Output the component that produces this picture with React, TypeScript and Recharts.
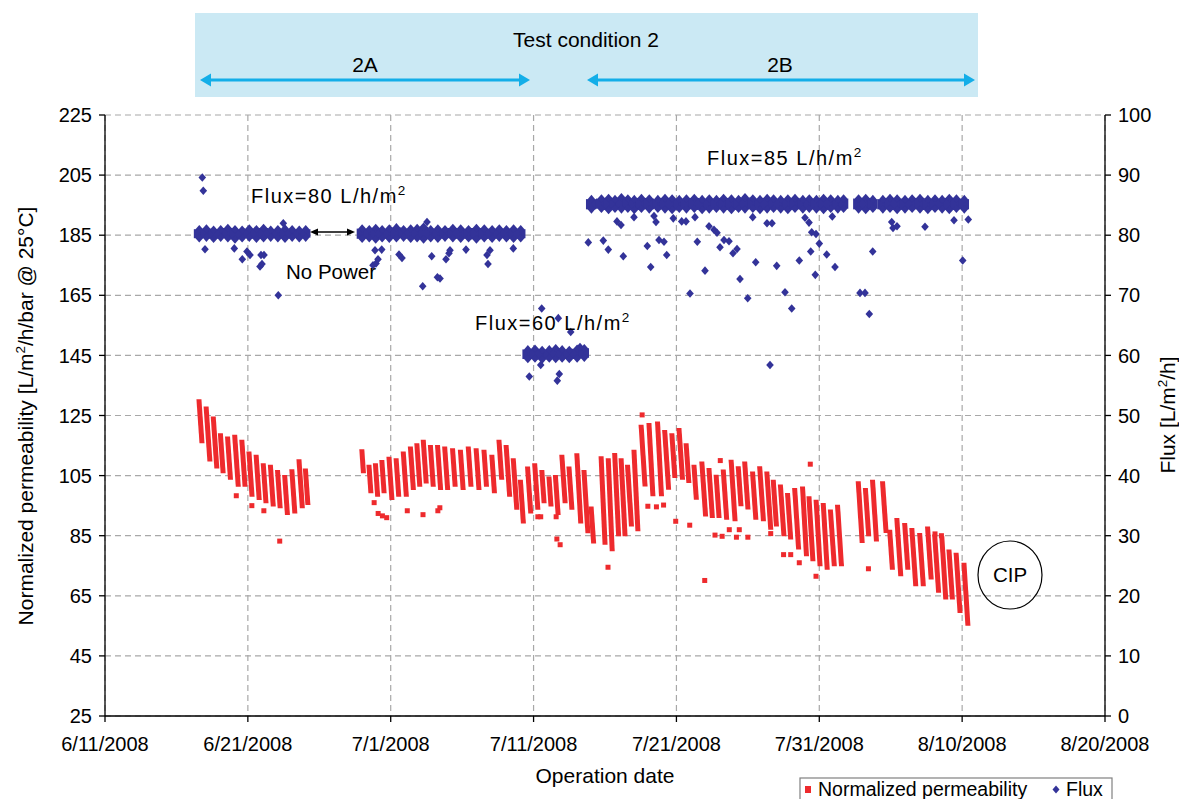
import React from 'react';
import { ComposedChart, XAxis, YAxis, CartesianGrid, Bar, Scatter } from 'recharts';

const FONT = '"Liberation Sans", Arial, Helvetica, sans-serif';
const RED = '#ee2a2d';
const BLUE = '#333399';
const CYAN = '#14aee8';

// x values are days after 6/11/2008
const dayTicks = [0, 10, 20, 30, 40, 50, 60, 70];
const permTicks = [25, 45, 65, 85, 105, 125, 145, 165, 185, 205, 225];
const fluxTicks = [0, 10, 20, 30, 40, 50, 60, 70, 80, 90, 100];

// Normalized permeability: one streak per filtration cycle (day, top, bottom)
const permDays = [
  6.6, 7.1, 7.6, 8.1, 8.6, 9.1, 9.6, 10.1, 10.6, 11.1, 11.6, 12.1, 12.6, 13.1, 13.6, 14.05,
  18.0, 18.5, 18.95, 19.4, 19.9, 20.4, 20.9, 21.4, 21.85, 22.3, 22.8, 23.3, 23.8, 24.35, 24.9, 25.45, 26.0,
  26.55, 27.1, 27.6, 28.1, 28.6, 29.1, 29.6, 30.1, 30.6, 31.1, 31.55, 32.0, 32.5, 33.05, 33.55, 34.05,
  34.75, 35.25, 35.7, 36.15, 36.6, 37.05, 37.55, 38.1, 38.7, 39.2, 39.7, 40.2, 40.7, 41.25, 41.8, 42.3, 42.8,
  43.3, 43.85, 44.35, 44.8, 45.35, 45.85, 46.35, 46.8, 47.3, 47.8, 48.3, 48.85, 49.3, 49.8, 50.3, 50.8, 51.3,
  52.75, 53.25, 53.75, 54.45, 54.95, 55.45, 56.0, 56.5, 57.05, 57.6, 58.1, 58.6, 59.1, 59.6, 60.15,
];
const permTop = [
  130.4, 128, 124.7, 119.1, 118, 118.6, 116.9, 113, 111.9, 109.1, 108.6, 106.9, 105.2, 107.1, 110.4, 107.4,
  113.8, 108.6, 109.1, 110.2, 111.3, 110.8, 113, 114.7, 115.8, 116.9, 115.2, 115.2, 114.7, 114.1, 113.6, 114.7, 114.1,
  113.6, 111.9, 116.9, 115.2, 110.8, 103.6, 108, 109.1, 106.9, 104.7, 105.2, 111.9, 108, 112.4, 106.9, 94.7,
  111.4, 110.8, 112.5, 110.8, 108.6, 113.6, 121.9, 122.5, 123, 120.2, 119.1, 120.8, 115.8, 108.6, 109.7, 107.5, 105.3,
  107, 110.3, 108.1, 109.7, 106.4, 108.1, 106.4, 103.6, 102, 99.2, 100.9, 101.4, 98.1, 97, 95.9, 93.7, 95.3,
  103.1, 100.9, 103.6, 103.1, 87, 90.9, 89.2, 87.6, 85.9, 88.1, 85.4, 84.8, 80.4, 79.3, 76,
];
const permBottom = [
  115.8, 109.7, 107.4, 105.8, 103.6, 101.3, 101.3, 98, 96.9, 95.8, 94.7, 94.1, 91.9, 92.4, 94.1, 95.2,
  105.8, 99.1, 98, 99.1, 96.9, 98, 98, 100.2, 101.3, 102.4, 101.3, 100.2, 100.2, 101.3, 100.2, 101.3, 100.2,
  101.3, 99.1, 103.6, 98, 93.6, 89.1, 92.4, 93.6, 95.8, 94.7, 91.9, 95.8, 93.6, 89.1, 85.8, 82.4,
  82, 79.8, 84.8, 84.8, 88.1, 86.5, 101.4, 98.1, 98.1, 100.3, 104.2, 103.6, 102.5, 97, 91.4, 90.9, 90.9,
  90.3, 89.8, 94.8, 93.7, 90.3, 89.8, 87, 88.1, 84.8, 83.7, 80.4, 78.2, 76.5, 74.8, 73.7, 74.8, 74.8,
  82.6, 84.8, 83.1, 85.9, 73.7, 71.5, 73.7, 68.2, 68.2, 70.4, 66, 63.8, 63.8, 59.3, 55,
];

// isolated permeability readings
const permOutDays = [
  9.19, 10.28, 11.12, 12.23, 18.84, 19.12, 19.42, 19.72, 21.16, 22.26, 23.3, 23.44, 30.3, 30.5, 31.58, 31.63,
  31.86, 35.21, 37.6, 38.0, 38.6, 39.1, 39.95, 40.93, 41.98, 42.7, 43.07, 43.2, 43.7, 44.2, 44.4, 45.0, 46.6,
  47.5, 48.0, 48.6, 49.37, 49.77, 53.44, 58.1, 58.55,
];
const permOutValues = [
  98.3, 95.0, 93.3, 83.2, 96.0, 92.4, 91.6, 91.0, 93.3, 92.0, 93.3, 94.3, 91.3, 91.3, 91.3, 83.9,
  82.0, 74.5, 125.2, 94.8, 94.6, 95.2, 89.8, 88.5, 70.1, 85.2, 110, 84.8, 87, 84.5, 87, 84.5, 85.7,
  78.7, 78.7, 76, 108.8, 71.5, 74.0, 85.6, 85.0,
];

// Flux plateaus (80, 80, 60, 85, 85, 85 L/h/m2): band samples (day, upper, lower)
const fluxBandDays = [
  [6.6, 7.1, 7.6, 8.1, 8.6, 9.1, 9.6, 10.1, 10.6, 11.1, 11.6, 12.1, 12.6, 13.1, 13.6, 14.05],
  [18.0, 18.5, 18.95, 19.4, 19.9, 20.4, 20.9, 21.4, 21.85, 22.3, 22.8, 23.3, 23.8, 24.35, 24.9, 25.45, 26.0,
    26.55, 27.1, 27.6, 28.1, 28.6, 29.1],
  [29.6, 30.1, 30.6, 31.1, 31.55, 32.0, 32.5, 33.05, 33.55],
  [34.05, 34.75, 35.25, 35.7, 36.15, 36.6, 37.05, 37.55, 38.1, 38.7, 39.2, 39.7, 40.2, 40.7, 41.25, 41.8, 42.3,
    42.8, 43.3, 43.85, 44.35, 44.8, 45.35, 45.85, 46.35, 46.8, 47.3, 47.8, 48.3, 48.85, 49.3, 49.8, 50.3, 50.8,
    51.3, 51.7],
  [52.75, 53.25, 53.75],
  [54.45, 54.95, 55.45, 56.0, 56.5, 57.05, 57.6, 58.1, 58.6, 59.1, 59.6, 60.15],
];
const fluxBandUpper = [
  [81.0, 81.1, 80.9, 81.0, 81.2, 81.0, 80.9, 81.1, 81.0, 81.2, 80.9, 81.0, 81.1, 81.0, 80.9, 81.0],
  [81.1, 81.0, 81.2, 81.0, 81.1, 81.3, 81.0, 81.1, 81.2, 81.4, 81.0, 81.1, 81.0, 81.2, 81.1, 81.0, 81.2,
    81.1, 81.0, 81.1, 81.0, 81.1, 81.0],
  [61.0, 61.1, 60.9, 61.0, 61.2, 61.0, 60.9, 61.1, 61.2],
  [86.0, 86.1, 86.2, 86.0, 86.3, 86.1, 86.0, 86.2, 86.1, 86.0, 86.2, 86.1, 86.0, 86.1, 86.2, 86.0, 86.1,
    86.0, 86.2, 86.1, 86.0, 86.3, 86.1, 86.0, 86.2, 86.1, 86.0, 86.1, 86.2, 86.0, 86.1, 86.0, 86.2, 86.1,
    86.0, 86.1],
  [86.1, 86.2, 86.0],
  [86.0, 86.2, 86.1, 86.0, 86.1, 86.2, 86.0, 86.1, 86.0, 86.2, 86.1, 86.0],
];
const fluxBandLower = [
  [79.5, 79.6, 79.4, 79.6, 79.5, 79.3, 79.5, 79.6, 79.4, 79.5, 79.6, 79.5, 79.4, 79.6, 79.5, 79.6],
  [79.4, 79.5, 79.3, 79.5, 79.4, 79.5, 79.6, 79.4, 79.5, 79.3, 79.5, 79.4, 79.6, 79.5, 79.4, 79.5, 79.3,
    79.5, 79.4, 79.6, 79.5, 79.4, 79.5],
  [59.4, 59.5, 59.3, 59.5, 59.4, 59.5, 59.4, 59.5, 59.6],
  [84.3, 84.4, 84.2, 84.4, 84.3, 84.4, 84.2, 84.4, 84.3, 84.4, 84.3, 84.2, 84.4, 84.3, 84.4, 84.2, 84.3,
    84.4, 84.3, 84.2, 84.4, 84.3, 84.4, 84.2, 84.3, 84.4, 84.3, 84.2, 84.4, 84.3, 84.4, 84.3, 84.2, 84.4,
    84.3, 84.4],
  [84.3, 84.2, 84.4],
  [84.3, 84.4, 84.2, 84.3, 84.4, 84.3, 84.2, 84.4, 84.3, 84.2, 84.4, 84.3],
];

// isolated flux readings
const fluxOutDays = [
  6.81, 6.88, 7.0, 9.05, 9.61, 9.94, 10.15, 10.85, 10.92, 10.99, 11.13, 12.13, 12.48,
  18.76, 18.9, 18.97, 19.11, 19.37, 20.58, 20.79, 22.24, 22.54, 22.87, 23.27, 23.45, 23.87, 24.08, 24.15,
  25.27, 26.74, 26.81, 26.95, 28.58,
  29.7, 30.5, 30.57, 31.66, 31.73, 31.8, 32.6, 33.25,
  33.83, 34.88, 35.23, 35.84, 36.12, 36.28, 37.03, 37.96, 38.2, 38.43, 38.57, 38.78, 39.13, 39.32, 39.78,
  40.37, 40.67, 40.95, 41.3, 41.46, 42.0, 42.28, 42.63, 42.84, 43.05, 43.33, 43.68, 43.96, 44.24, 44.45,
  44.99, 45.34, 45.55, 46.34, 46.55, 46.69, 47.02, 47.6, 48.07, 48.6, 49.0, 49.28, 49.4, 49.47, 49.72,
  49.77, 50.0, 50.52, 50.91, 51.1, 52.85, 53.2, 53.5, 53.74, 55.07, 55.16, 55.44, 57.4, 59.43, 60.04, 60.43,
];
const fluxOutValues = [
  89.6, 87.4, 77.65, 77.8, 76.0, 77.3, 76.7, 74.8, 76.7, 75.2, 76.7, 70.0, 82.0,
  75.0, 77.5, 75.3, 76.0, 77.6, 76.8, 76.2, 71.5, 82.2, 76.5, 73.0, 72.8, 76.0, 77.0, 77.5,
  77.6, 76.7, 75.2, 77.5, 77.8,
  56.5, 58.4, 67.8, 55.8, 66.2, 56.9, 63.9, 61.4,
  78.8, 79.1, 77.6, 82.3, 81.7, 76.5, 83.0, 78.2, 74.7, 83.2, 82.2, 79.2, 78.9, 76.7, 82.8,
  82.3, 82.3, 70.3, 83.0, 78.9, 74.1, 81.5, 80.9, 80.4, 78.0, 79.2, 79.0, 77.0, 77.7, 72.7,
  69.5, 83.0, 75.5, 82.0, 58.4, 82.0, 74.9, 70.5, 67.8, 75.8, 82.9, 82.1, 77.3, 80.5, 73.4,
  80.2, 78.6, 76.8, 83.1, 74.7, 70.4, 70.4, 66.9, 77.3, 82.2, 81.2, 81.5, 81.4, 82.5, 75.8, 82.6,
];

// ---- tables built from the arrays above ----
const rowMap = new Map<number, any>();
const rowAt = (d: number) => {
  if (!rowMap.has(d)) rowMap.set(d, { d });
  return rowMap.get(d);
};
permDays.forEach((d, i) => {
  rowAt(d).perm = [permBottom[i], permTop[i]];
});
fluxBandDays.forEach((days, p) => {
  days.forEach((d, i) => {
    rowAt(d).flux = [fluxBandLower[p][i], fluxBandUpper[p][i]];
  });
});
const chartData = Array.from(rowMap.values()).sort((a, b) => a.d - b.d);

const fluxEdgePoints: { d: number; v: number }[] = [];
fluxBandDays.forEach((days, p) => {
  days.forEach((d, i) => {
    fluxEdgePoints.push({ d, v: fluxBandUpper[p][i] });
    fluxEdgePoints.push({ d, v: fluxBandLower[p][i] });
  });
});
const fluxOutPoints = fluxOutDays.map((d, i) => ({ d, v: fluxOutValues[i] }));
const permOutPoints = permOutDays.map((d, i) => ({ d, v: permOutValues[i] }));

const fmtDate = (v: number) => {
  const dt = new Date(2008, 5, 11 + v);
  return `${dt.getMonth() + 1}/${dt.getDate()}/${dt.getFullYear()}`;
};

const Diamond = (props: any) => {
  const { cx, cy } = props;
  if (cx == null || cy == null || isNaN(cx) || isNaN(cy)) return null;
  return (
    <polygon
      points={`${cx},${cy - 4.3} ${cx + 3.8},${cy} ${cx},${cy + 4.3} ${cx - 3.8},${cy}`}
      fill={BLUE}
    />
  );
};
const Square = (props: any) => {
  const { cx, cy } = props;
  if (cx == null || cy == null || isNaN(cx) || isNaN(cy)) return null;
  return <rect x={cx - 2.5} y={cy - 2.5} width={5} height={5} fill={RED} />;
};
// streak of readings within one filtration cycle: slightly slanted column
const Streak = (props: any) => {
  const { x, y, width, height } = props;
  if ([x, y, width, height].some((n) => n == null || isNaN(n)) || height <= 0) return null;
  const s = Math.min(4, height * 0.07);
  return (
    <polygon
      points={`${x},${y} ${x + width},${y} ${x + width + s},${y + height} ${x + s},${y + height}`}
      fill={RED}
    />
  );
};
// flux band body, widened so neighbouring samples join
const BandPiece = (props: any) => {
  const { x, y, width, height } = props;
  if ([x, y, width, height].some((n) => n == null || isNaN(n)) || height <= 0) return null;
  return <rect x={x - 2.6} y={y} width={width + 5.2} height={height} fill={BLUE} />;
};

const tickStyle = { fill: '#000', fontSize: 20, fontFamily: FONT };
const axisStroke = { stroke: '#000', strokeWidth: 1.3 };

const Sup = ({ children }: { children: React.ReactNode }) => (
  <tspan dy={-8} fontSize={13.5}>
    {children}
  </tspan>
);

export default function App() {
  return (
    <div
      style={{
        position: 'absolute',
        left: 0,
        top: 0,
        width: 1179,
        height: 799,
        background: '#fff',
        fontFamily: FONT,
        overflow: 'hidden',
      }}
    >
      <ComposedChart
        width={1179}
        height={799}
        data={chartData}
        margin={{ top: 115, right: 0, bottom: 43, left: 0 }}
      >
        <CartesianGrid
          xAxisId="main"
          yAxisId="left"
          stroke="#a8a8a8"
          strokeDasharray="6 4"
          strokeWidth={1.2}
        />
        <XAxis
          xAxisId="main"
          dataKey="d"
          type="number"
          domain={[0, 70]}
          ticks={dayTicks}
          interval={0}
          tickFormatter={fmtDate}
          height={40}
          tick={tickStyle}
          tickSize={6}
          tickMargin={15}
          axisLine={axisStroke}
          tickLine={axisStroke}
        />
        <XAxis xAxisId="zband" dataKey="d" type="number" domain={[0, 70]} height={0} hide />
        <XAxis xAxisId="zpts" dataKey="d" type="number" domain={[0, 70]} height={0} hide />
        <YAxis
          yAxisId="left"
          type="number"
          domain={[25, 225]}
          ticks={permTicks}
          interval={0}
          width={105}
          tick={tickStyle}
          tickSize={6}
          tickMargin={7}
          axisLine={axisStroke}
          tickLine={axisStroke}
        />
        <YAxis
          yAxisId="right"
          orientation="right"
          type="number"
          domain={[0, 100]}
          ticks={fluxTicks}
          interval={0}
          width={74}
          tick={tickStyle}
          tickSize={6}
          tickMargin={7}
          axisLine={axisStroke}
          tickLine={axisStroke}
        />
        <Bar
          xAxisId="main"
          yAxisId="left"
          dataKey="perm"
          fill={RED}
          barSize={5}
          shape={Streak}
          isAnimationActive={false}
        />
        <Bar
          xAxisId="zband"
          yAxisId="right"
          dataKey="flux"
          fill={BLUE}
          barSize={5}
          shape={BandPiece}
          isAnimationActive={false}
        />
        <Scatter
          xAxisId="zpts"
          yAxisId="left"
          data={permOutPoints}
          dataKey="v"
          shape={Square}
          isAnimationActive={false}
        />
        <Scatter
          xAxisId="zpts"
          yAxisId="right"
          data={fluxEdgePoints}
          dataKey="v"
          shape={Diamond}
          isAnimationActive={false}
        />
        <Scatter
          xAxisId="zpts"
          yAxisId="right"
          data={fluxOutPoints}
          dataKey="v"
          shape={Diamond}
          isAnimationActive={false}
        />
      </ComposedChart>

      <svg
        width={1179}
        height={799}
        style={{ position: 'absolute', left: 0, top: 0, pointerEvents: 'none' }}
        fontFamily={FONT}
      >
        {/* test condition banner */}
        <rect x={195} y={13} width={783} height={84} fill="#cbe9f4" />
        <text x={586} y={47} textAnchor="middle" fontSize={21} fill="#000">
          Test condition 2
        </text>
        <text x={365} y={72} textAnchor="middle" fontSize={21} fill="#000">
          2A
        </text>
        <text x={780} y={72} textAnchor="middle" fontSize={21} fill="#000">
          2B
        </text>
        <line x1={208} y1={80} x2={522} y2={80} stroke={CYAN} strokeWidth={3} />
        <polygon points="200,80 211,73.5 211,86.5" fill={CYAN} />
        <polygon points="530,80 519,73.5 519,86.5" fill={CYAN} />
        <line x1={595} y1={80} x2={967} y2={80} stroke={CYAN} strokeWidth={3} />
        <polygon points="587,80 598,73.5 598,86.5" fill={CYAN} />
        <polygon points="975,80 964,73.5 964,86.5" fill={CYAN} />

        {/* annotations */}
        <text x={251} y={203} fontSize={20} fill="#000" letterSpacing={1.5}>
          Flux=80 L/h/m<Sup>2</Sup>
        </text>
        <line x1={316} y1={232} x2={349} y2={232} stroke="#000" strokeWidth={1.3} />
        <polygon points="310,232 318,228.5 318,235.5" fill="#000" />
        <polygon points="355,232 347,228.5 347,235.5" fill="#000" />
        <text x={286} y={279} fontSize={20.5} fill="#000">
          No Power
        </text>
        <text x={475} y={330} fontSize={20} fill="#000" letterSpacing={1.5}>
          Flux=60 L/h/m<Sup>2</Sup>
        </text>
        <text x={707} y={165} fontSize={20} fill="#000" letterSpacing={1.5}>
          Flux=85 L/h/m<Sup>2</Sup>
        </text>
        <ellipse cx={1010} cy={575} rx={32} ry={34} fill="none" stroke="#000" strokeWidth={1.2} />
        <text x={1010} y={582} textAnchor="middle" fontSize={20.5} fill="#000">
          CIP
        </text>

        {/* axis titles */}
        <text
          transform="translate(33,416) rotate(-90)"
          textAnchor="middle"
          fontSize={21}
          fill="#000"
        >
          Normalized permeability [L/m<Sup>2</Sup>
          <tspan dy={8} fontSize={21}>
            /h/bar @ 25°C]
          </tspan>
        </text>
        <text
          transform="translate(1175,415) rotate(-90)"
          textAnchor="middle"
          fontSize={21}
          fill="#000"
        >
          Flux [L/m<Sup>2</Sup>
          <tspan dy={8} fontSize={21}>
            /h]
          </tspan>
        </text>
        <text x={605} y={783} textAnchor="middle" fontSize={21} fill="#000">
          Operation date
        </text>

        {/* legend */}
        <rect x={800} y={778} width={312} height={30} fill="#fff" stroke="#808080" strokeWidth={1.2} />
        <rect x={805} y={786} width={6} height={7} fill={RED} />
        <text x={818} y={796} fontSize={19.5} fill="#000">
          Normalized permeability
        </text>
        <polygon points="1056,785.5 1059.5,789.5 1056,793.5 1052.5,789.5" fill={BLUE} />
        <text x={1066} y={796} fontSize={19.5} fill="#000">
          Flux
        </text>
      </svg>
    </div>
  );
}
